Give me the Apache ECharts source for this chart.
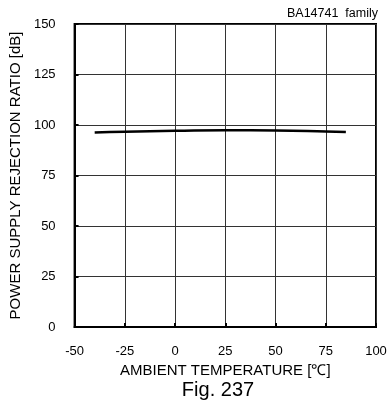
<!DOCTYPE html>
<html><head><meta charset="utf-8">
<script src="https://cdn.jsdelivr.net/npm/echarts@6/dist/echarts.min.js"></script>
<style>html,body{margin:0;padding:0;background:#fff}#c{width:390px;height:405px}</style>
</head><body><div id="c"></div>
<script>
var temps = [-40, -25, 0, 25, 50, 75, 85];
var psrr = [96.3, 96.7, 97.1, 97.4, 97.3, 96.8, 96.5];
var xTicks = [-50, -25, 0, 25, 50, 75, 100];
var yTicks = [0, 25, 50, 75, 100, 125, 150];
var chart = echarts.init(document.getElementById('c'), null, {renderer: 'canvas'});
var F = 'Liberation Sans, Arial, sans-serif';
chart.setOption({
  animation: false,
  backgroundColor: '#fff',
  grid: {left: 72, right: 14, top: 24, bottom: 78, show: true, borderColor: '#000', borderWidth: 2, backgroundColor: 'transparent'},
  graphic: [
    {type: 'text', right: 12, top: 7, style: {text: 'BA14741  family', font: '12.5px ' + F, fill: '#000'}},
    {type: 'text', x: 218, y: 380, style: {text: 'Fig. 237', font: '20px ' + F, fill: '#000', textAlign: 'center', textVerticalAlign: 'top'}}
  ],
  xAxis: {
    type: 'value', min: -50, max: 100, interval: 25,
    name: 'AMBIENT TEMPERATURE [\u2103]', nameLocation: 'middle', nameGap: 34,
    nameTextStyle: {fontFamily: F, fontSize: 15, color: '#000'},
    axisLine: {show: true, onZero: false, lineStyle: {color: '#000', width: 2}},
    axisTick: {show: true, inside: true, length: 4, lineStyle: {color: '#000', width: 2}},
    axisLabel: {fontFamily: F, fontSize: 13, color: '#000', margin: 18},
    splitLine: {show: true, lineStyle: {color: '#333', width: 1}}
  },
  yAxis: {
    type: 'value', min: 0, max: 150, interval: 25,
    name: 'POWER SUPPLY REJECTION RATIO [dB]', nameLocation: 'middle', nameGap: 45,
    nameTextStyle: {fontFamily: F, fontSize: 15, color: '#000'},
    axisLine: {show: true, onZero: false, lineStyle: {color: '#000', width: 2}},
    axisTick: {show: true, inside: true, length: 4, lineStyle: {color: '#000', width: 2}},
    axisLabel: {fontFamily: F, fontSize: 13, color: '#000', margin: 19},
    splitLine: {show: true, lineStyle: {color: '#333', width: 1}}
  },
  series: [{
    type: 'line', smooth: true, showSymbol: false,
    data: temps.map(function(t, i){ return [t, psrr[i]]; }),
    lineStyle: {color: '#000', width: 2.5}
  }]
});
</script></body></html>
